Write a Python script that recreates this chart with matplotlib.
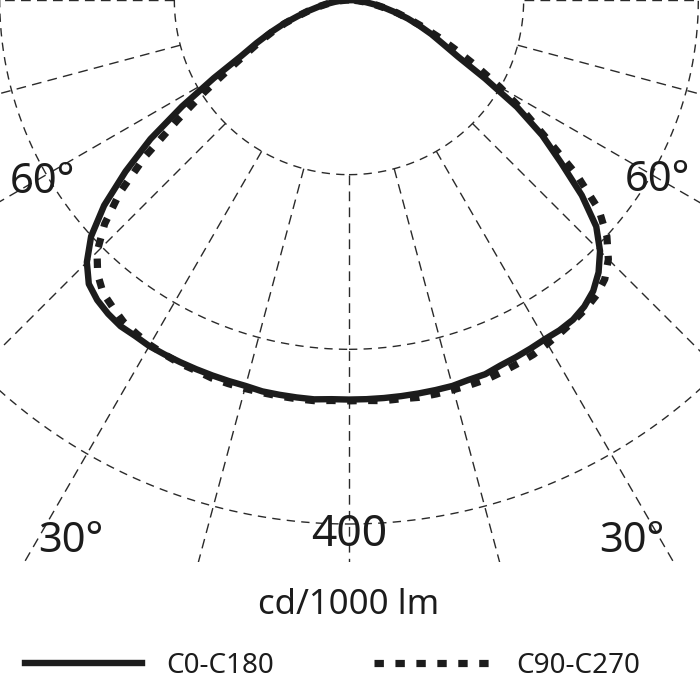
import numpy as np
import matplotlib
matplotlib.use("Agg")
import matplotlib.pyplot as plt

plt.rcParams['font.family'] = ['Noto Sans', 'DejaVu Sans']

# luminous intensity (cd/1000 lm) per gamma angle
gamma = [0, 2.5, 5, 7.5, 10, 12.5, 15, 17.5, 20, 22.5, 25, 27.5, 30, 32.5, 35, 37.5,
         40, 42.5, 45, 47.5, 50, 52.5, 55, 57.5, 60, 62.5, 65, 67.5, 70, 72.5, 75,
         77.5, 80, 82.5, 85, 87.5, 90]
c0 = [305, 305, 305, 305, 305, 305, 305, 304, 304, 302, 301, 300, 299, 299, 298, 295,
      290, 282, 271, 256, 232, 204, 180, 152, 120, 94, 79, 68, 57, 47, 37,
      28, 20, 13, 7, 3, 0]
c180 = [305, 305, 306, 306, 306, 306, 305, 305, 305, 305, 305, 305, 305, 304, 304, 302,
        299, 294, 283, 267, 244, 215, 185, 151, 119, 93, 78, 65, 53, 41, 32,
        24, 17, 11, 6, 2, 0]
c90 = [306, 306, 307, 307, 308, 308, 308, 308, 308, 307, 306, 305, 303, 301, 299, 297,
       294, 289, 280, 267, 249, 219, 184, 158, 133, 110, 90, 74, 60, 48, 38,
       28, 20, 13, 7, 3, 0]
c270 = [306, 306, 307, 307, 307, 307, 307, 307, 307, 306, 306, 305, 304, 302, 300, 296,
        292, 284, 272, 253, 228, 196, 160, 131, 106, 88, 75, 63, 52, 41, 32,
        24, 17, 11, 6, 2, 0]

grid_radii = [400 / 3, 800 / 3, 400]
grid_angles = np.arange(-180, 181, 15)
labels = ['C0-C180', 'C90-C270']

px = 1.31  # pixels per cd/klm
ink = '#1c1c1c'
grid_col = '#2a2a2a'


def to_xy(angles_deg, radii):
    a = np.radians(angles_deg)
    r = np.asarray(radii, dtype=float)
    return r * np.sin(a), -r * np.cos(a)


def plane(right, left):
    g = np.asarray(gamma, dtype=float)
    ang = np.concatenate([-g[::-1], g[1:]])
    rad = np.concatenate([np.asarray(left)[::-1], np.asarray(right)[1:]])
    return to_xy(ang, rad)


fig = plt.figure(figsize=(7, 7), dpi=100)
ax = fig.add_axes([0, 138 / 700, 1, 562 / 700])
ax.set_xlim(-349 / px, 351 / px)
ax.set_ylim(-562 / px, 0)
ax.set_aspect('equal')
ax.axis('off')

# polar grid
t = np.linspace(0, 360, 721)
for r in grid_radii:
    x, y = to_xy(t, np.full_like(t, r))
    ax.plot(x, y, color=grid_col, lw=1.0, dashes=(6, 4.5), zorder=1)
for a in grid_angles:
    x, y = to_xy([a, a], [grid_radii[0], 700])
    ax.plot(x, y, color=grid_col, lw=1.0, dashes=(7, 4.5), zorder=1)

# curves
x, y = plane(c90, c270)
ax.plot(x, y, color=ink, lw=5.2, dashes=(1.3, 1.6), solid_capstyle='butt',
        dash_capstyle='butt', label=labels[1], zorder=3)
x, y = plane(c0, c180)
ax.plot(x, y, color=ink, lw=4.6, solid_joinstyle='round', label=labels[0], zorder=4)

# angle and scale labels
lab = dict(color=ink, fontsize=30, ha='center', va='baseline')
ax.text(-307 / px, -193 / px, '60°', **lab)
ax.text(308 / px, -191 / px, '60°', **lab)
ax.text(-278 / px, -552 / px, '30°', **lab)
ax.text(283 / px, -552 / px, '30°', **lab)
ax.text(0, -546 / px, '400', color=ink, fontsize=32, ha='center', va='baseline')

fig.text(349 / 700, 1 - 614 / 700, 'cd/1000 lm', color=ink, fontsize=25,
         ha='center', va='baseline')

handles, names = ax.get_legend_handles_labels()
order = [names.index(n) for n in labels]
leg = fig.legend([handles[i] for i in order], [names[i] for i in order],
                 loc='center left', bbox_to_anchor=(25 / 700, 1 - 666 / 700),
                 ncol=2, frameon=False, fontsize=20, handlelength=4.2,
                 handletextpad=0.9, columnspacing=3.6, borderpad=0, borderaxespad=0)
for t_ in leg.get_texts():
    t_.set_color(ink)

fig.savefig('out.png', dpi=100, facecolor='white')
